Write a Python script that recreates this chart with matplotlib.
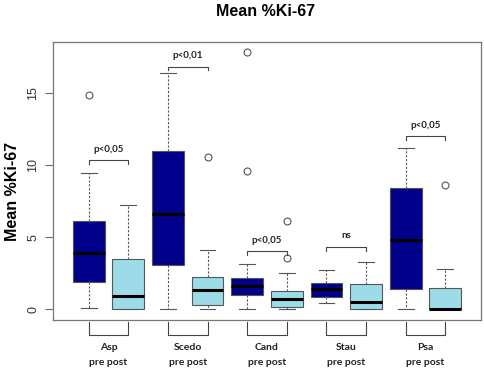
import matplotlib
matplotlib.use("Agg")
import matplotlib.pyplot as plt

# box stats, order: pre, post for each group
groups = ["Asp", "Scedo", "Cand", "Stau", "Psa"]
whislo = [0.12, 0.0, 0.0, 0.0, 0.0, 0.0, 0.42, 0.0, 0.0, 0.0]
q1 = [1.92, 0.02, 3.1, 0.33, 0.97, 0.19, 0.83, 0.02, 1.44, 0.0]
med = [3.91, 0.9, 6.6, 1.32, 1.6, 0.74, 1.44, 0.49, 4.79, 0.02]
q3 = [6.16, 3.5, 11.0, 2.27, 2.2, 1.27, 1.85, 1.78, 8.45, 1.46]
whishi = [9.49, 7.25, 16.4, 4.15, 3.12, 2.52, 2.7, 3.29, 11.18, 2.83]
fliers = [[14.9], [], [], [10.6], [17.85, 9.6], [6.16, 3.56], [], [], [], [8.66]]
sig_labels = ["p<0,05", "p<0,01", "p<0,05", "ns", "p<0,05"]
sig_y = [10.35, 16.83, 4.03, 4.33, 12.0]
yticks = [0, 5, 10, 15]

dark = "#00008B"
light = "#9BDCE8"
edge = "#555555"
small_font = "Lato"

fig = plt.figure(figsize=(4.84, 3.71), dpi=100)
ax = fig.add_axes([0.1095, 0.1375, 0.8843, 0.7493])

stats = []
for i in range(len(med)):
    stats.append(dict(whislo=whislo[i], q1=q1[i], med=med[i], q3=q3[i],
                      whishi=whishi[i], fliers=fliers[i]))

pos = list(range(1, len(med) + 1))
bp = ax.bxp(stats, positions=pos, widths=0.8, patch_artist=True,
            boxprops=dict(edgecolor=edge, linewidth=0.8),
            medianprops=dict(color="black", linewidth=2.2, solid_capstyle="butt"),
            whiskerprops=dict(color=edge, linewidth=0.8, linestyle=(0, (2, 1.5))),
            capprops=dict(color=edge, linewidth=0.8),
            capwidths=0.4,
            flierprops=dict(marker="o", markersize=5, markerfacecolor="none",
                            markeredgecolor=edge, markeredgewidth=0.8))
for i, b in enumerate(bp["boxes"]):
    b.set_facecolor(dark if i % 2 == 0 else light)

ax.set_xlim(0.1, 10.9)
ax.set_ylim(-0.74, 18.55)
ax.set_xticks([])
ax.set_yticks(yticks)
ax.set_yticklabels([str(t) for t in yticks], rotation=90, va="center",
                   fontsize=9, color="#333333", family="Liberation Sans")
ax.tick_params(axis="y", length=6, color="#666666", pad=4)
for s in ax.spines.values():
    s.set_color("#777777")
    s.set_linewidth(0.9)

# significance brackets between pre and post
for g in range(len(groups)):
    x0, x1 = pos[2 * g], pos[2 * g + 1]
    y = sig_y[g]
    ax.plot([x0, x0, x1, x1], [y - 0.25, y, y, y - 0.25], color="#444444", lw=0.8)
    ax.text((x0 + x1) / 2, y + 0.45, sig_labels[g], ha="center", va="bottom",
            fontsize=7, fontweight="bold", family=small_font, color="#222222")

# group brackets and labels under the axis
for g in range(len(groups)):
    x0, x1 = pos[2 * g], pos[2 * g + 1]
    ax.plot([x0, x0, x1, x1], [-0.9, -1.8, -1.8, -0.9], color="#444444",
            lw=0.8, clip_on=False)
    ax.text((x0 + x1) / 2, -2.64, groups[g], ha="center", va="center",
            fontsize=7.5, fontweight="bold", family=small_font, color="#222222")
    ax.text((x0 + x1) / 2, -3.68, "pre post", ha="center", va="center",
            fontsize=7.5, fontweight="bold", family=small_font, color="#222222")

fig.text(0.548, 0.97, "Mean %Ki-67", ha="center", va="center", fontsize=11.5,
         fontweight="bold", family="Liberation Sans")
fig.text(0.025, 1 - 191 / 371, "Mean %Ki-67", ha="center", va="center",
         rotation=90, fontsize=11.5, fontweight="bold", family="Liberation Sans")

fig.savefig("out.png", dpi=100)
